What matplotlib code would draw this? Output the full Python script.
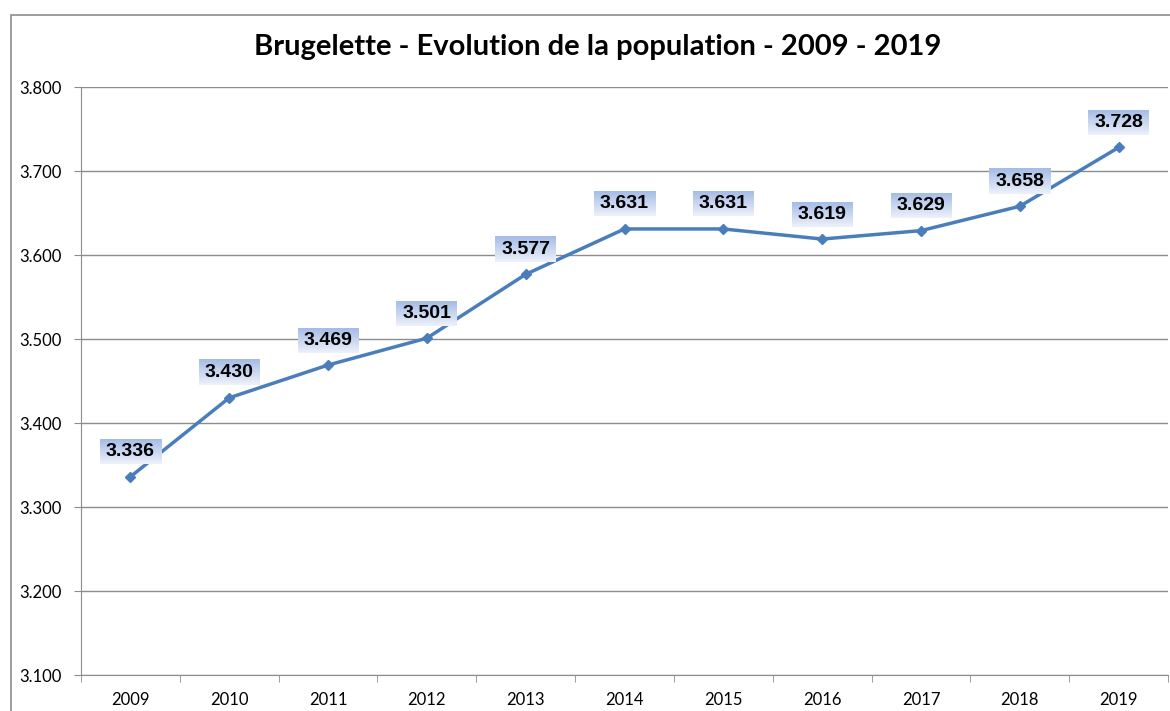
import numpy as np
import matplotlib.pyplot as plt
from matplotlib.patches import Rectangle
from matplotlib.colors import to_rgb

years = ["2009", "2010", "2011", "2012", "2013", "2014", "2015", "2016", "2017", "2018", "2019"]
population = [3336, 3430, 3469, 3501, 3577, 3631, 3631, 3619, 3629, 3658, 3728]
y_ticks = [3100, 3200, 3300, 3400, 3500, 3600, 3700, 3800]


def fmt(v):
    # Belgian style thousands separator
    return f"{v:,}".replace(",", ".")


fig = plt.figure(figsize=(11.7, 7.11), dpi=100)
ax = fig.add_axes([81 / 1170, 1 - 675 / 711, (1168 - 81) / 1170, (675 - 87) / 711])

# outer chart frame
fig.patches.append(Rectangle((11 / 1170, -0.1), 1.2, 1 - 15 / 711 + 0.1,
                             transform=fig.transFigure, fill=False,
                             edgecolor="#8c8c8c", linewidth=1.2))

x = np.arange(len(years))
ax.plot(x, population, color="#4a7ebb", linewidth=2.5, marker="D",
        markersize=5, zorder=3)

ax.set_xlim(-0.5, len(years) - 0.5)
ax.set_ylim(3100, 3800)
ax.set_yticks(y_ticks)
ax.set_yticklabels([fmt(v) for v in y_ticks], fontfamily="Lato", fontsize=12)
ax.set_xticks(x)
ax.set_xticklabels(years, fontfamily="Lato", fontsize=12)
ax.xaxis.set_minor_locator(plt.FixedLocator(np.arange(-0.5, len(years), 1)))
ax.tick_params(axis="x", which="major", length=0, pad=12)
ax.tick_params(axis="x", which="minor", length=5, color="#8c8c8c", direction="out")
ax.tick_params(axis="y", length=5, color="#8c8c8c", direction="out", pad=9)
ax.grid(axis="y", color="#8c8c8c", linewidth=1)
ax.set_axisbelow(True)
for side in ["top", "right"]:
    ax.spines[side].set_visible(False)
for side in ["left", "bottom"]:
    ax.spines[side].set_color("#8c8c8c")

fig.text(0.511, 1 - 47 / 711, "Brugelette - Evolution de la population - 2009 - 2019",
         ha="center", va="center", fontfamily="Lato", fontweight="bold", fontsize=21)

# data labels with gradient boxes (blue on top fading to white at the bottom)
top_c = np.array(to_rgb("#a5bce6"))
bot_c = np.array(to_rgb("#edf1fa"))
f = np.linspace(0, 1, 50).reshape(-1, 1, 1)
grad_img = top_c * (1 - f) + bot_c * f   # row 0 = top

labels = []
for xi, v in zip(x, population):
    t = ax.annotate(fmt(v), (xi, v), xytext=(0, 18), textcoords="offset points",
                    ha="center", va="center", fontfamily="Liberation Sans",
                    fontweight="bold", fontsize=14, zorder=6)
    labels.append(t)

fig.canvas.draw()
r = fig.canvas.get_renderer()
inv = ax.transData.inverted()
for t in labels:
    bb = t.get_window_extent(r)
    x0, y0 = inv.transform((bb.x0 - 6, bb.y0 - 4))
    x1, y1 = inv.transform((bb.x1 + 6, bb.y1 + 4))
    ax.imshow(grad_img, origin="upper", extent=[x0, x1, y0, y1],
              aspect="auto", zorder=5)

ax.set_xlim(-0.5, len(years) - 0.5)
ax.set_ylim(3100, 3800)

fig.savefig("out.png", dpi=100)
